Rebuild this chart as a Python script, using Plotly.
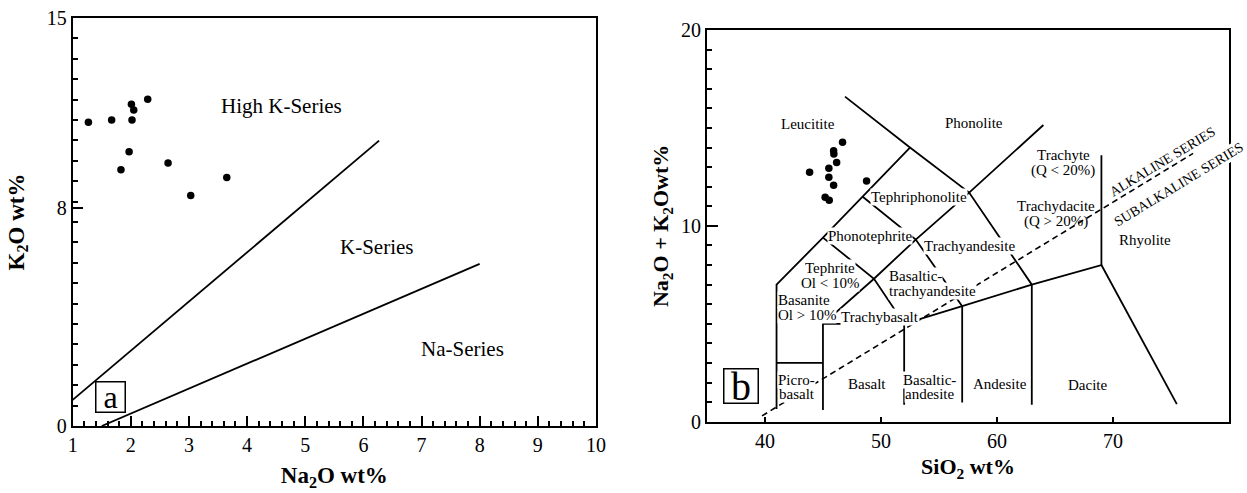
import plotly.graph_objects as go

# ---------------- Data: panel a (K2O vs Na2O) ----------------
na2o = [1.27, 1.67, 2.01, 2.05, 2.02, 2.29, 1.97, 1.83, 2.64, 3.03, 3.65]
k2o = [11.17, 11.25, 11.83, 11.62, 11.25, 12.01, 10.08, 9.42, 9.67, 8.47, 9.14]

hk_line_x = [1.0, 6.27]
hk_line_y = [0.96, 10.49]
na_line_x = [1.5, 8.0]
na_line_y = [0.0, 5.96]

a_labels = ["High K-Series", "K-Series", "Na-Series"]
a_label_x = [4.59, 6.22, 7.71]
a_label_y = [11.76, 6.58, 2.83]

# ---------------- Data: panel b (TAS) ----------------
sio2 = [43.85, 45.51, 45.51, 45.92, 46.18, 45.92, 45.94, 46.69, 48.76, 45.19, 45.54]
alk = [12.74, 12.94, 12.48, 12.07, 13.23, 13.83, 13.67, 14.27, 12.29, 11.46, 11.31]

tas_lines = [
    [(41, 0.65), (41, 7), (45, 9.4), (48.4, 11.5), (52.5, 14)],
    [(46.9, 16.6), (52.5, 14), (57.6, 11.7), (63, 7), (63, 0.87)],
    [(45, 0.6), (45, 5), (49.4, 7.3), (53, 9.3), (57.6, 11.7), (64, 15.15)],
    [(41, 3), (45, 3)],
    [(45, 5), (52, 5), (57, 5.9), (63, 7), (69, 8), (69, 13.6)],
    [(69, 8), (75.5, 0.9)],
    [(52, 0.87), (52, 5), (49.4, 7.3), (45, 9.4)],
    [(57, 0.98), (57, 5.9), (53, 9.3), (48.4, 11.5)],
]
alk_div_x = [39.75, 76.9]
alk_div_y = [0.3, 13.7]

# field names (each entry: lines of text), centre positions, halo flag, anchor
field_lines = [
    ["Leucitite"], ["Phonolite"], ["Trachyte", "(Q < 20%)"], ["Trachydacite", "(Q > 20%)"],
    ["Rhyolite"], ["Basalt"], ["Andesite"], ["Dacite"],
    ["Tephriphonolite"], ["Phonotephrite"], ["Trachyandesite"], ["Tephrite", "Ol < 10%"],
    ["Trachybasalt"], ["Picro-", "basalt"], ["Basaltic-", "andesite"],
    ["Basaltic-", "trachyandesite"], ["Basanite", "Ol > 10%"],
]
field_x = [43.68, 58.03, 65.69, 65.12, 72.79, 48.76, 60.24, 67.76,
           53.29, 49.04, 57.66, 45.6, 49.9, 42.73, 54.21, 50.62, 41.0]
field_y = [15.2, 15.27, 13.21, 10.61, 9.28, 1.93, 1.91, 1.87,
           11.46, 9.48, 8.97, 7.47, 5.36, 1.78, 1.76, 7.07, 5.82]
field_halo = [False] * 8 + [True] * 9
field_anchor = ["center"] * 15 + ["left", "left"]
field_gap = [15, 15, 15.5, 15.5, 15, 15, 15, 15, 15, 15, 15, 14.5, 15, 14.5, 14.5, 14.5, 14.5]

series_labels = ["ALKALINE SERIES", "SUBALKALINE SERIES"]
series_x = [74.3, 75.67]
series_y = [13.28, 12.09]

FONT = "Liberation Serif, Times New Roman, serif"

fig = go.Figure()

# Panel a
fig.add_trace(go.Scatter(x=hk_line_x, y=hk_line_y, mode="lines",
                         line=dict(color="black", width=1.8), xaxis="x", yaxis="y",
                         showlegend=False, hoverinfo="skip"))
fig.add_trace(go.Scatter(x=na_line_x, y=na_line_y, mode="lines",
                         line=dict(color="black", width=1.8), xaxis="x", yaxis="y",
                         showlegend=False, hoverinfo="skip"))
fig.add_trace(go.Scatter(x=na2o, y=k2o, mode="markers",
                         marker=dict(color="black", size=7.5), xaxis="x", yaxis="y",
                         showlegend=False))

# Panel b lines
for seg in tas_lines:
    fig.add_trace(go.Scatter(x=[p[0] for p in seg], y=[p[1] for p in seg], mode="lines",
                             line=dict(color="black", width=1.8), xaxis="x2", yaxis="y2",
                             showlegend=False, hoverinfo="skip"))
fig.add_trace(go.Scatter(x=alk_div_x, y=alk_div_y, mode="lines",
                         line=dict(color="black", width=1.6, dash="6px,4px"),
                         xaxis="x2", yaxis="y2", showlegend=False, hoverinfo="skip"))
fig.add_trace(go.Scatter(x=sio2, y=alk, mode="markers",
                         marker=dict(color="black", size=7.5), xaxis="x2", yaxis="y2",
                         showlegend=False))

annotations = []
for t, x, y in zip(a_labels, a_label_x, a_label_y):
    annotations.append(dict(text=t, x=x, y=y, xref="x", yref="y", showarrow=False,
                            font=dict(family=FONT, size=21, color="black")))
annotations.append(dict(text="a", x=1.655, y=1.07, xref="x", yref="y",
                        showarrow=False, width=28, height=29, borderpad=0,
                        bordercolor="black", borderwidth=1.5, bgcolor="white",
                        font=dict(family=FONT, size=32, color="black")))

for lines, x, y, halo, anchor, gap in zip(field_lines, field_x, field_y, field_halo,
                                          field_anchor, field_gap):
    n = len(lines)
    # draw bottom line first so upper line's descenders stay visible over the halo
    for i in reversed(range(n)):
        t = lines[i]
        shift = ((n - 1) / 2 - i) * gap
        ann = dict(text=t, x=x, y=y, yshift=shift, xref="x2", yref="y2", showarrow=False,
                   xanchor=anchor, font=dict(family=FONT, size=15, color="black"))
        if halo:
            ann["bgcolor"] = "white"
            ann["borderpad"] = 0
        annotations.append(ann)

series_bg = [None, "white"]
for t, x, y, bg in zip(series_labels, series_x, series_y, series_bg):
    ann = dict(text=t, x=x, y=y, xref="x2", yref="y2", showarrow=False,
               textangle=-31.3, font=dict(family=FONT, size=14, color="black"))
    if bg:
        ann["bgcolor"] = bg
        ann["borderpad"] = 0
    annotations.append(ann)
annotations.append(dict(text="b", x=37.93, y=1.82, xref="x2", yref="y2",
                        showarrow=False, width=33, height=33, borderpad=0,
                        bordercolor="black", borderwidth=1.5, bgcolor="white",
                        font=dict(family=FONT, size=40, color="black")))

axis_common = dict(showline=True, linecolor="black", linewidth=2, mirror=True,
                   showgrid=False, zeroline=False, ticks="inside", tickcolor="black",
                   tickwidth=1.5, automargin=False,
                   tickfont=dict(family=FONT, size=20, color="black"))

fig.update_layout(
    width=1247, height=493,
    margin=dict(l=0, r=0, t=0, b=0),
    paper_bgcolor="white", plot_bgcolor="white",
    showlegend=False,
    annotations=annotations,
    xaxis=dict(**axis_common, domain=[0.0583, 0.4779], range=[1, 10],
               tickmode="array", tickvals=list(range(1, 11)), ticklen=10,
               minor=dict(ticks="inside", ticklen=5, tick0=1, dtick=0.2, tickcolor="black",
                          tickwidth=1.5),
               title=dict(text="<b>Na<sub>2</sub>O wt%</b>", standoff=12,
                          font=dict(family=FONT, size=23, color="black")),
               anchor="y"),
    yaxis=dict(**axis_common, domain=[0.1359, 0.9635], range=[0, 15],
               tickmode="array", tickvals=[0, 8, 15], ticklen=10,
               minor=dict(ticks="inside", ticklen=5, tick0=0, dtick=0.75, tickcolor="black",
                          tickwidth=1.5),
               title=dict(text="<b>K<sub>2</sub>O wt%</b>", standoff=16,
                          font=dict(family=FONT, size=23, color="black")),
               anchor="x"),
    xaxis2=dict(**axis_common, domain=[0.5669, 0.9856], range=[35, 80],
                tickmode="array", tickvals=[40, 50, 60, 70], ticklen=5,
                title=dict(text="<b>SiO<sub>2</sub> wt%</b>", standoff=8,
                           font=dict(family=FONT, size=22, color="black")),
                anchor="y2"),
    yaxis2=dict(**axis_common, domain=[0.1446, 0.9391], range=[0, 20],
                tickmode="array", tickvals=[0, 10, 20], ticklen=11,
                minor=dict(ticks="inside", ticklen=5, tick0=0, dtick=1, tickcolor="black",
                           tickwidth=1.5),
                title=dict(text="<b>Na<sub>2</sub>O + K<sub>2</sub>Owt%</b>", standoff=6,
                           font=dict(family=FONT, size=22, color="black")),
                anchor="x2"),
)

fig.write_html("out.html")
